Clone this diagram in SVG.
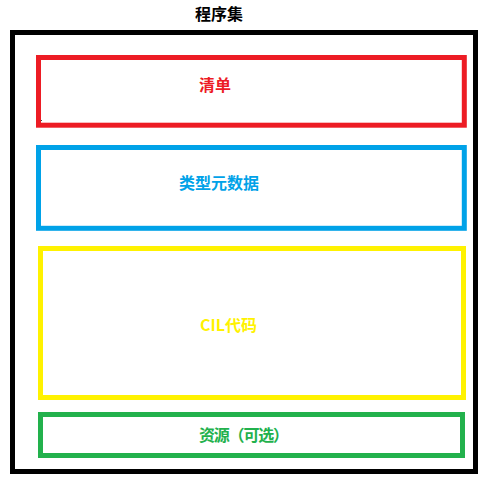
<svg xmlns="http://www.w3.org/2000/svg" width="488" height="481" viewBox="0 0 488 481">
<style>
.box{fill:none;stroke-width:5}
.t{font-family:"Noto Sans CJK SC","Noto Sans",sans-serif;font-size:16px;font-weight:bold}
</style>
<rect width="488" height="481" fill="#fff"/>
<g id="assembly">
<rect class="box" x="12.5" y="32.5" width="463" height="439" stroke="#000"/>
<text class="t" x="195" y="20" fill="#000">程序集</text>
</g>
<g id="manifest">
<rect class="box" x="38.5" y="57.5" width="425.8" height="67.7" stroke="#ED1C24"/>
<rect x="41" y="120" width="1" height="1" fill="#444"/>
<text class="t" x="199" y="91" fill="#ED1C24">清单</text>
</g>
<g id="metadata">
<rect class="box" x="38.5" y="147.5" width="425.8" height="80.8" stroke="#00A2E8"/>
<text class="t" x="179" y="189" fill="#00A2E8">类型元数据</text>
</g>
<g id="cil">
<rect class="box" x="40.5" y="248.5" width="423" height="149" stroke="#FFF200"/>
<text class="t" x="200" y="331" fill="#FFF200">CIL代码</text>
</g>
<g id="resources">
<rect class="box" x="40.5" y="414.5" width="422" height="41" stroke="#22B14C"/>
<text class="t" x="199" y="441" fill="#22B14C" textLength="90" lengthAdjust="spacing">资源（可选）</text>
</g>
<g id="connectors"/>
</svg>
